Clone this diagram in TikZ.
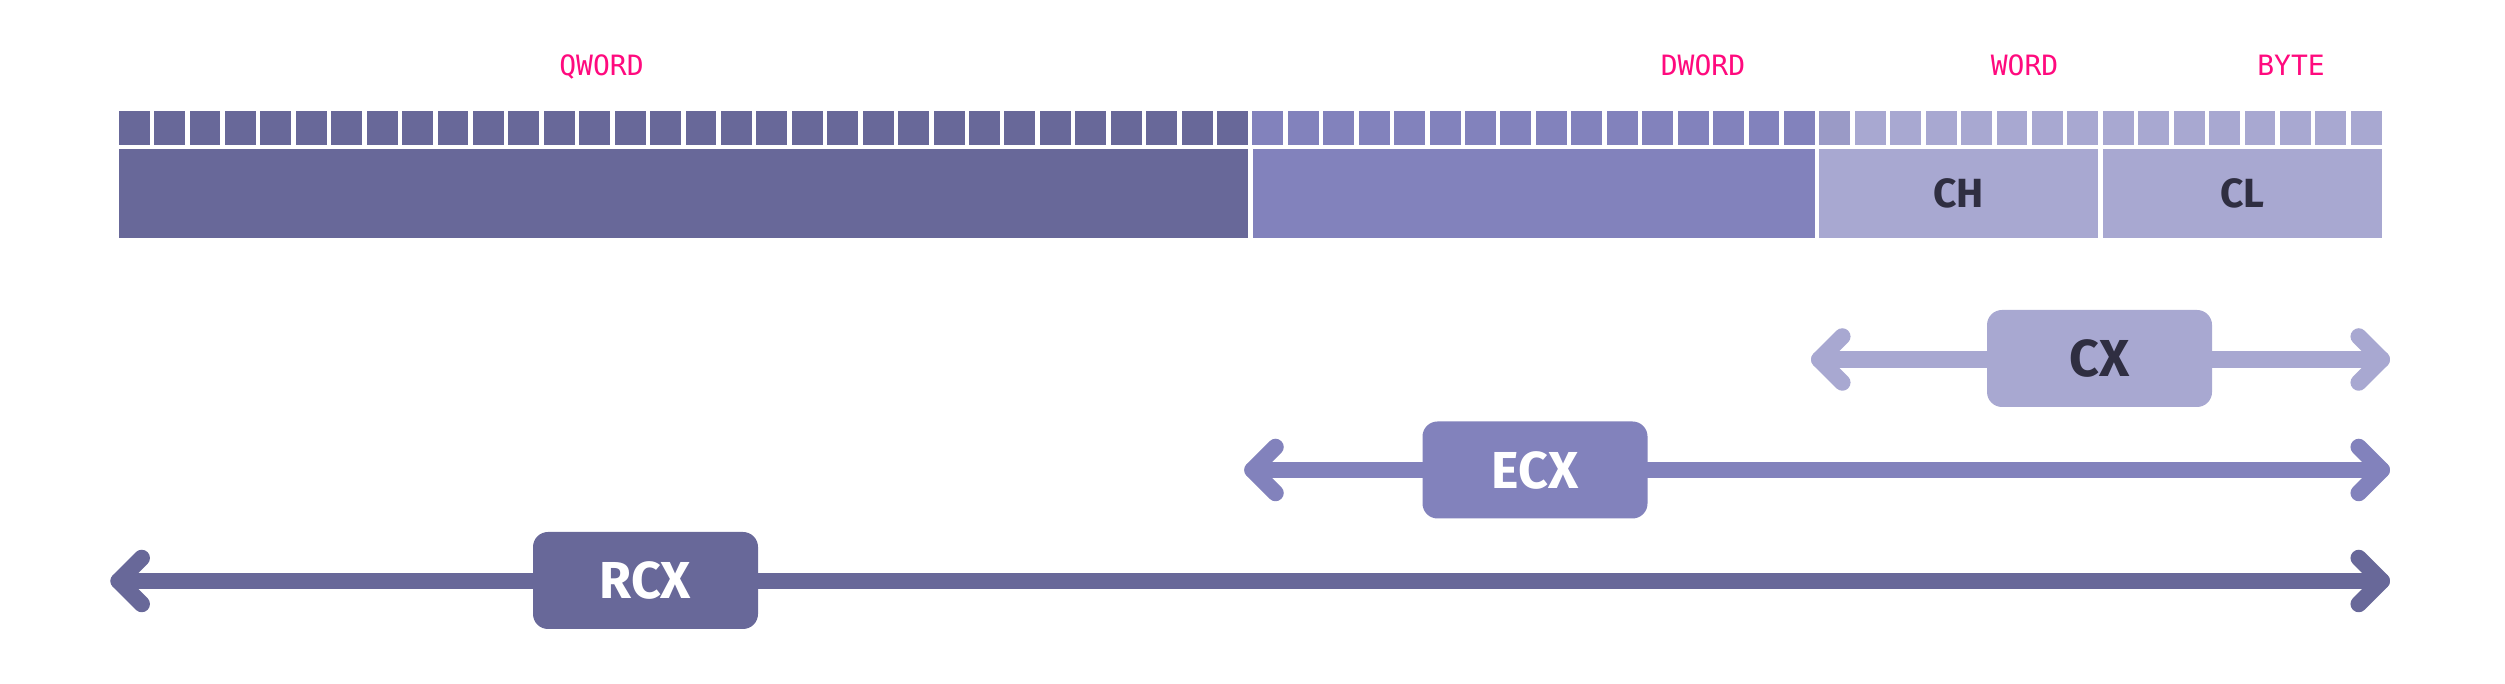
\documentclass[tikz,border=0pt]{standalone}
\usepackage{fontspec}
\setsansfont{Fira Sans}
\newfontfamily\monolabel{DejaVu Sans Mono}
\definecolor{regdark}{HTML}{686899}
\definecolor{regmid}{HTML}{8282BC}
\definecolor{reglight}{HTML}{A8A8D1}
\definecolor{regedge}{HTML}{9A9AC6}
\definecolor{pinklabel}{HTML}{FF0A7E}
\definecolor{inktext}{HTML}{2F2E41}
\begin{document}
\begin{tikzpicture}[x=0.4pt,y=-0.4pt,
  seg/.style={fill=#1, draw=none, inner sep=0pt, minimum height=35.6pt,
    font=\sffamily\bfseries\fontsize{16.3}{18}\selectfont, text=inktext},
  sizelabel/.style={anchor=base, inner sep=0pt,
    font=\monolabel\fontsize{11.2}{13}\selectfont, text=pinklabel},
  regbox/.style={fill=#1, draw=none, rounded corners=6pt, inner sep=0pt,
    minimum width=90pt, minimum height=38.8pt,
    font=\sffamily\bfseries\fontsize{20.8}{24}\selectfont},
  regline/.style={draw=#1, line width=6.6pt, line cap=round, line join=round},
]
\useasboundingbox[fill=white] (0,0) rectangle (2505,684);

% size labels
\node[sizelabel] (qword) at (601.5,76) {QWORD};
\node[sizelabel] (dword) at (1703,76) {DWORD};
\node[sizelabel] (word)  at (2024.5,76) {WORD};
\node[sizelabel] (byte)  at (2291,76) {BYTE};

% bit cells
\foreach \i in {0,...,63}{
  \pgfmathsetmacro\xa{118.7+35.43*\i}
  \ifnum\i<32 \def\bc{regdark}\else\ifnum\i<48 \def\bc{regmid}\else\ifnum\i=48 \def\bc{regedge}\else\def\bc{reglight}\fi\fi\fi
  \fill[\bc] (\xa,110.7) rectangle ++(30.9,34);
}

% register segments
\node[seg=regdark,  minimum width=451.68pt] (qseg)  at (683.3,193.8) {};
\node[seg=regmid,   minimum width=224.92pt] (dseg)  at (1533.65,193.8) {};
\node[seg=reglight, minimum width=111.6pt]  (chseg) at (1958.8,193.8) {CH};
\node[seg=reglight, minimum width=111.56pt] (clseg) at (2242.25,193.8) {CL};

% CX
\coordinate (cxL) at (1819.3,359.5);
\coordinate (cxR) at (2381.7,359.5);
\draw[regline=reglight] (cxL) -- (cxR);
\draw[regline=reglight] ([shift={(23,-23)}]cxL) -- (cxL) -- ([shift={(23,23)}]cxL);
\draw[regline=reglight] ([shift={(-23,-23)}]cxR) -- (cxR) -- ([shift={(-23,23)}]cxR);
\node[regbox=reglight, text=inktext] (cx) at (2099.5,358.5) {CX};

% ECX
\coordinate (ecxL) at (1252.5,470);
\coordinate (ecxR) at (2381.7,470);
\draw[regline=regmid] (ecxL) -- (ecxR);
\draw[regline=regmid] ([shift={(23,-23)}]ecxL) -- (ecxL) -- ([shift={(23,23)}]ecxL);
\draw[regline=regmid] ([shift={(-23,-23)}]ecxR) -- (ecxR) -- ([shift={(-23,23)}]ecxR);
\node[regbox=regmid, text=white] (ecx) at (1535,470) {ECX};

% RCX
\coordinate (rcxL) at (118.7,581);
\coordinate (rcxR) at (2381.7,581);
\draw[regline=regdark] (rcxL) -- (rcxR);
\draw[regline=regdark] ([shift={(23,-23)}]rcxL) -- (rcxL) -- ([shift={(23,23)}]rcxL);
\draw[regline=regdark] ([shift={(-23,-23)}]rcxR) -- (rcxR) -- ([shift={(-23,23)}]rcxR);
\node[regbox=regdark, text=white] (rcx) at (645.5,580.5) {RCX};
\end{tikzpicture}
\end{document}
